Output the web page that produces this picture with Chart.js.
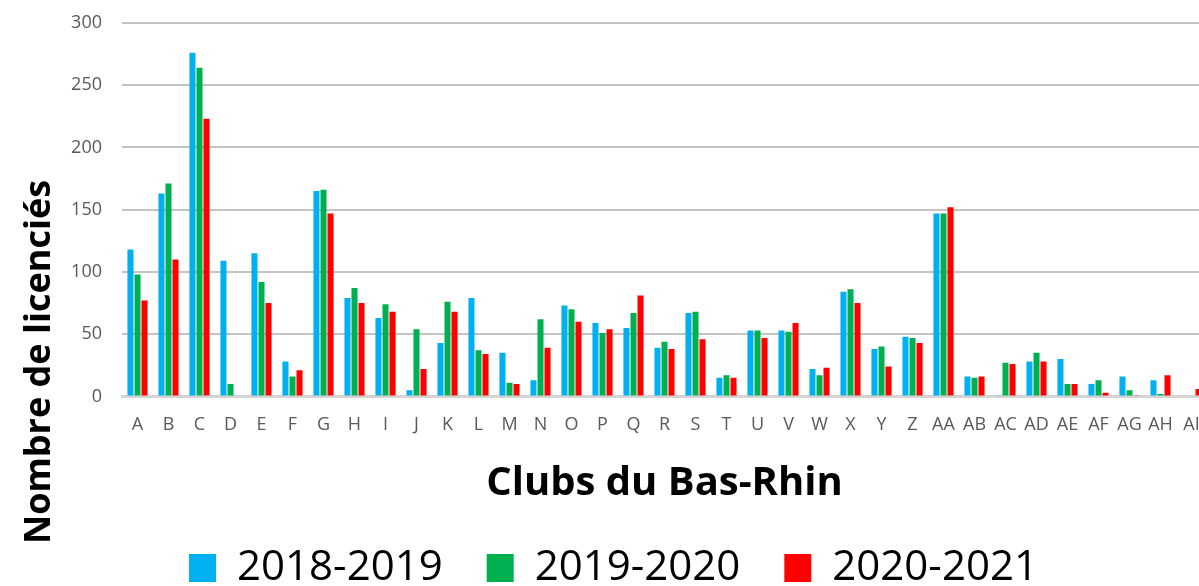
<!DOCTYPE html>
<html>
<head>
<meta charset="utf-8">
<script src="https://cdn.jsdelivr.net/npm/chart.js@4/dist/chart.umd.min.js"></script>
<style>
    html, body { margin: 0; padding: 0; background: #fff; overflow: hidden; }
    #wrap { position: relative; width: 1215px; height: 586px; }
</style>
</head>
<body>
<div id="wrap"><canvas id="clubs-canvas"></canvas></div>
<script>
var categories = ['A', 'B', 'C', 'D', 'E', 'F', 'G', 'H', 'I', 'J', 'K', 'L', 'M', 'N', 'O', 'P', 'Q', 'R',
    'S', 'T', 'U', 'V', 'W', 'X', 'Y', 'Z', 'AA', 'AB', 'AC', 'AD', 'AE', 'AF', 'AG', 'AH', 'AI'];
var seasons = ['2018-2019', '2019-2020', '2020-2021'];
var values2018 = [118, 163, 276, 109, 115, 28, 165, 79, 63, 5, 43, 79, 35, 13, 73, 59, 55, 39,
    67, 15, 53, 53, 22, 84, 38, 48, 147, 16, 1, 28, 30, 10, 16, 13, 0];
var values2019 = [98, 171, 264, 10, 92, 16, 166, 87, 74, 54, 76, 37, 11, 62, 70, 51, 67, 44,
    68, 17, 53, 52, 17, 86, 40, 47, 147, 15, 27, 35, 10, 13, 5, 2, 0];
var values2020 = [77, 110, 223, 0, 75, 21, 147, 75, 68, 22, 68, 34, 10, 39, 60, 54, 81, 38,
    46, 15, 47, 59, 23, 75, 24, 43, 152, 16, 26, 28, 10, 3, 1, 17, 6];
var yTicks = [0, 50, 100, 150, 200, 250, 300];

(function () {
    var colors = ['#00b0f0', '#00b050', '#ff0000'];
    var series = [values2018, values2019, values2020];

    // y title sits lower than the plot centre in the original, so draw it by hand
    var yTitlePlugin = {
        id: 'yTitle',
        afterDraw: function (chart) {
            var ctx = chart.ctx;
            ctx.save();
            ctx.translate(40, 362);
            ctx.rotate(-Math.PI / 2);
            ctx.font = 'bold 36px "Open Sans"';
            ctx.fillStyle = '#000';
            ctx.textAlign = 'center';
            ctx.textBaseline = 'middle';
            ctx.fillText('Nombre de licenciés', 0, 0);
            ctx.restore();
        }
    };

    var datasets = seasons.map(function (label, i) {
        return {
            label: label,
            data: series[i],
            backgroundColor: colors[i],
            borderWidth: 0,
            categoryPercentage: 0.68,
            barPercentage: 0.86
        };
    });

    new Chart(document.getElementById('clubs-canvas'), {
        type: 'bar',
        data: { labels: categories, datasets: datasets },
        plugins: [yTitlePlugin],
        options: {
            responsive: true,
            maintainAspectRatio: false,
            animation: false,
            layout: { padding: { top: 23, left: 20, right: 8, bottom: -13 } },
            plugins: {
                tooltip: { enabled: false },
                legend: {
                    position: 'bottom',
                    labels: {
                        color: '#000',
                        font: { family: 'Open Sans', size: 42 },
                        boxWidth: 27,
                        boxHeight: 28,
                        padding: 44
                    }
                }
            },
            scales: {
                x: {
                    grid: { display: false },
                    border: { color: '#d4d4d4', width: 3 },
                    ticks: {
                        color: '#595959',
                        font: { family: 'Open Sans', size: 18 },
                        maxRotation: 0,
                        autoSkip: false,
                        padding: 10
                    },
                    title: {
                        display: true,
                        text: 'Clubs du Bas-Rhin',
                        color: '#000',
                        font: { family: 'Open Sans', size: 40, weight: 'bold' },
                        padding: { top: 14, bottom: -5 }
                    }
                },
                y: {
                    min: 0,
                    max: 300,
                    afterBuildTicks: function (scale) {
                        scale.ticks = yTicks.map(function (v) { return { value: v }; });
                    },
                    afterFit: function (scale) {
                        scale.width = 102;
                        scale.paddingTop = 0;
                        scale.paddingBottom = 0;
                    },
                    grid: { color: '#c4c4c4', lineWidth: 2, drawTicks: false },
                    border: { display: false },
                    ticks: {
                        color: '#595959',
                        font: { family: 'Open Sans', size: 18 },
                        padding: 20
                    }
                }
            }
        }
    });
})();
</script>
</body>
</html>
